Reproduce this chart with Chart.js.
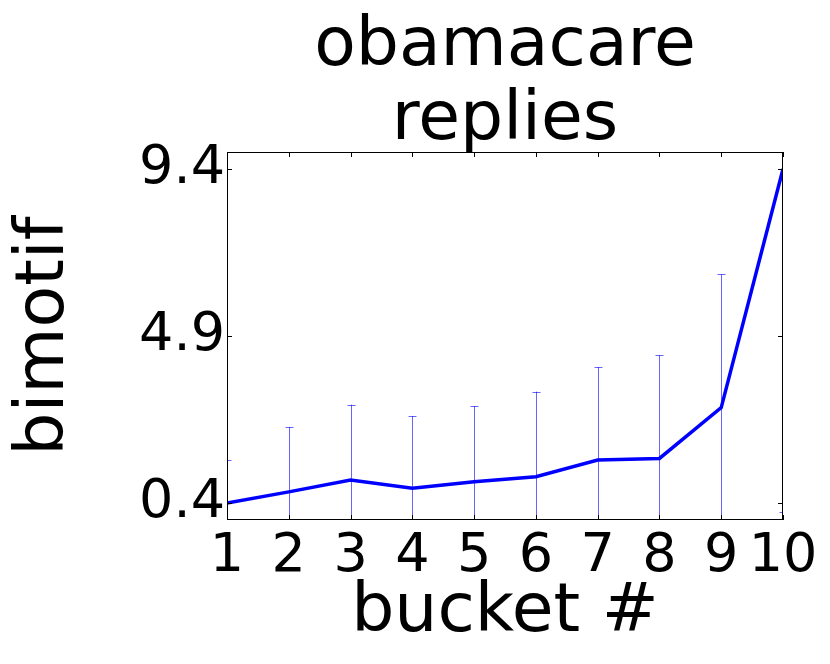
<!DOCTYPE html>
<html>
<head>
<meta charset="utf-8">
<script src="https://cdn.jsdelivr.net/npm/chart.js@4/dist/chart.umd.min.js"></script>
<style>
  html, body { margin: 0; padding: 0; background: #fff; }
  #wrap { width: 830px; height: 664px; }
</style>
</head>
<body>
<div id="wrap"><canvas id="chart" width="830" height="664"></canvas></div>
<script>
// bimotif per bucket, with the +/- spread drawn as error bars
const buckets = [1, 2, 3, 4, 5, 6, 7, 8, 9, 10];
const bimotif = [0.40, 0.70, 1.02, 0.80, 0.97, 1.11, 1.56, 1.60, 2.97, 9.40];
const spread = [1.16, 1.75, 2.03, 1.94, 2.04, 2.29, 2.50, 2.78, 3.59, 9.24];
const yTicks = [0.4, 4.9, 9.4];
const titleLines = ['obamacare', 'replies'];

const FONT = "'DejaVu Sans', sans-serif";
const BLUE = '#0000ff';
const ERR = 'rgba(0,0,255,0.6)';

// error bars + matplotlib-style frame with inward ticks
const extras = {
  id: 'extras',
  beforeDatasetsDraw(chart) {
    const { ctx, chartArea: a, scales: { x, y } } = chart;
    ctx.save();
    ctx.beginPath();
    ctx.rect(a.left, a.top, a.right - a.left, a.bottom - a.top);
    ctx.clip();
    ctx.strokeStyle = ERR;
    ctx.lineWidth = 1;
    buckets.forEach((b, i) => {
      const px = Math.round(x.getPixelForValue(b)) + 0.5;
      const hi = y.getPixelForValue(bimotif[i] + spread[i]);
      const lo = y.getPixelForValue(bimotif[i] - spread[i]);
      ctx.beginPath();
      ctx.moveTo(px, lo); ctx.lineTo(px, hi);
      ctx.moveTo(px - 4, Math.round(hi) + 0.5); ctx.lineTo(px + 4, Math.round(hi) + 0.5);
      ctx.moveTo(px - 4, Math.round(lo) + 0.5); ctx.lineTo(px + 4, Math.round(lo) + 0.5);
      ctx.stroke();
    });
    ctx.restore();
  },
  afterDraw(chart) {
    const { ctx, chartArea: a, scales: { x, y } } = chart;
    ctx.save();
    ctx.strokeStyle = '#000';
    ctx.lineWidth = 1;
    ctx.strokeRect(a.left + 0.5, a.top + 0.5, a.right - a.left - 1, a.bottom - a.top - 1);
    ctx.beginPath();
    x.ticks.forEach((t) => {
      const px = Math.round(x.getPixelForValue(t.value)) + 0.5;
      ctx.moveTo(px, a.bottom); ctx.lineTo(px, a.bottom - 5);
      ctx.moveTo(px, a.top); ctx.lineTo(px, a.top + 5);
    });
    y.ticks.forEach((t) => {
      const py = Math.round(y.getPixelForValue(t.value)) + 0.5;
      ctx.moveTo(a.left, py); ctx.lineTo(a.left + 5, py);
      ctx.moveTo(a.right, py); ctx.lineTo(a.right - 5, py);
    });
    ctx.stroke();
    ctx.restore();
  },
};

new Chart(document.getElementById('chart'), {
  type: 'line',
  data: {
    datasets: [{
      data: buckets.map((b, i) => ({ x: b, y: bimotif[i] })),
      borderColor: BLUE,
      borderWidth: 3.5,
      pointRadius: 0,
      tension: 0,
      fill: false,
    }],
  },
  options: {
    responsive: false,
    animation: false,
    layout: { padding: { left: 0, right: 47, top: 0, bottom: 0 } },
    plugins: {
      legend: { display: false },
      tooltip: { enabled: false },
    },
    scales: {
      x: {
        type: 'linear',
        min: 1,
        max: 10,
        grid: { display: false, drawTicks: false },
        border: { display: false },
        ticks: {
          stepSize: 1, autoSkip: false, maxRotation: 0, minRotation: 0,
          color: '#000', padding: 5, font: { family: FONT, size: 54 },
        },
        title: {
          display: true, text: 'bucket #', color: '#000',
          font: { family: FONT, size: 68 }, padding: { top: 0, bottom: 10 },
        },
        afterFit: (s) => { s.height = 144; },
      },
      // top axis only carries the chart title, centred over the plot like matplotlib
      top: {
        type: 'linear',
        position: 'top',
        min: 1,
        max: 10,
        grid: { display: false, drawTicks: false },
        border: { display: false },
        ticks: { display: false },
        title: {
          display: true, text: titleLines, color: '#000',
          font: { family: FONT, size: 68, lineHeight: 1.09 }, padding: { top: 10, bottom: 0 },
        },
        afterFit: (s) => { s.height = 152; },
      },
      y: {
        min: -0.058,
        max: 9.858,
        grid: { display: false, drawTicks: false },
        border: { display: false },
        afterBuildTicks: (s) => { s.ticks = yTicks.map((v) => ({ value: v })); },
        ticks: { color: '#000', padding: 2, font: { family: FONT, size: 54 }, callback: (v) => v.toFixed(1) },
        title: {
          display: true, text: 'bimotif', color: '#000',
          font: { family: FONT, size: 68 }, padding: { top: 5, bottom: 0 },
        },
        afterFit: (s) => { s.width = 227; },
      },
    },
  },
  plugins: [extras],
});
</script>
</body>
</html>
